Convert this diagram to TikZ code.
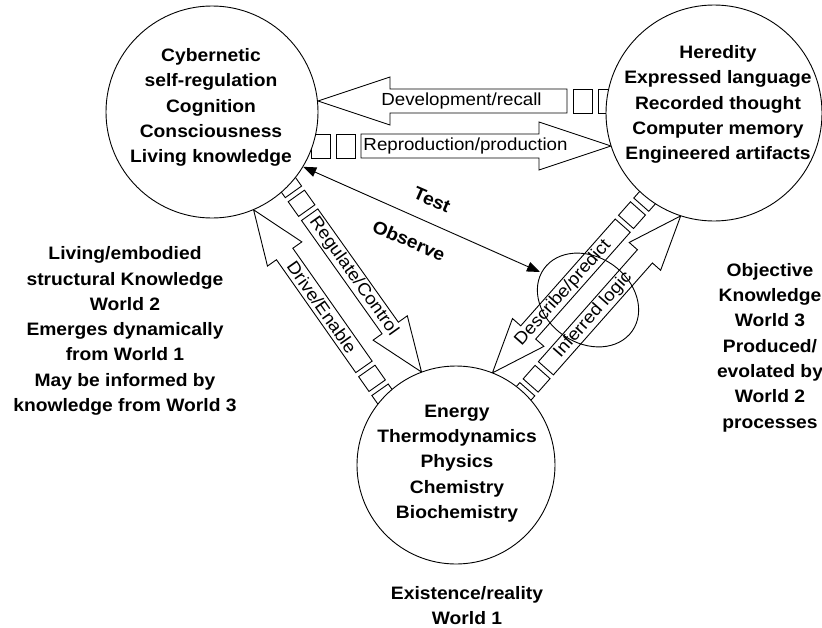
\documentclass[tikz,border=0pt]{standalone}
\usepackage{fontspec}
\setmainfont{Liberation Sans}[FakeStretch=1.07]
\usetikzlibrary{calc,arrows.meta,shapes.geometric}

\tikzset{
  world/.style={circle, draw, fill=white, line width=0.9pt, inner sep=0pt},
  bodytext/.style={font=\bfseries\fontsize{18}{25.3}\selectfont, align=center, inner sep=0pt},
  flowlabel/.style={font=\fontsize{17.5}{20}\selectfont, inner sep=0pt},
  outline/.style={draw, line width=0.9pt, line join=miter},
  tiptri/.tip={Triangle[length=13pt,width=10pt]},
}

% shaft half width, head half width, head length, box length, gap
\newcommand\arrowdims[5]{\def\baw{#1}\def\bahw{#2}\def\bahl{#3}\def\babl{#4}\def\bag{#5}}

% block arrow with two small boxes at its tail: tail, tip, label, label position
\newcommand\blockarrow[4]{%
  \path let \p1=($(#2)-(#1)$) in \pgfextra{%
    \pgfmathsetmacro\tmpL{veclen(\x1,\y1)}%
    \pgfmathsetmacro\tmpA{atan2(\y1,\x1)}%
    \xdef\baL{\tmpL}\xdef\baA{\tmpA}};
  \pgfmathsetmacro\baT{\baA>90 ? \baA-180 : (\baA<-90 ? \baA+180 : \baA)}
  \begin{scope}[shift={(#1)}, rotate=\baA]
    \draw[outline] (0,-\baw) rectangle (\babl,\baw);
    \draw[outline] ({\babl+\bag},-\baw) rectangle ({2*\babl+\bag},\baw);
    \draw[outline] ({2*\babl+2*\bag},-\baw) -- ({\baL-\bahl},-\baw)
      -- ({\baL-\bahl},-\bahw) -- (\baL,0) -- ({\baL-\bahl},\bahw)
      -- ({\baL-\bahl},\baw) -- ({2*\babl+2*\bag},\baw) -- cycle;
  \end{scope}
  \node[flowlabel, rotate=\baT] at ($(#1)!#4!(#2)$) {#3};
}

\begin{document}
\begin{tikzpicture}[x=1pt,y=1pt]
\useasboundingbox (0,0) rectangle (822,-627);

% arrow end points
\coordinate (dev-tail) at (617,-101);
\coordinate (dev-tip)  at (318,-101);
\coordinate (rep-tail) at (311,-146);
\coordinate (rep-tip)  at (611,-146);
\coordinate (reg-tail) at (283,-177.2);
\coordinate (reg-tip)  at (421.5,-372);
\coordinate (drv-tail) at (390.4,-404.5);
\coordinate (drv-tip)  at (253.6,-209.8);
\coordinate (dsc-tail) at (653.2,-191.2);
\coordinate (dsc-tip)  at (492.4,-372.9);
\coordinate (inf-tail) at (515.4,-402.7);
\coordinate (inf-tip)  at (680.7,-215.9);

% block arrows
\arrowdims{12}{24}{72}{19}{6}
\blockarrow{dev-tail}{dev-tip}{Development/recall}{0.52}
\blockarrow{rep-tail}{rep-tip}{Reproduction/production}{0.515}
\arrowdims{10}{21}{54}{18}{5}
\blockarrow{reg-tail}{reg-tip}{Regulate/Control}{0.51}
\blockarrow{drv-tail}{drv-tip}{Drive/Enable}{0.5}
\blockarrow{dsc-tail}{dsc-tip}{Describe/predict}{0.56}
\blockarrow{inf-tail}{inf-tip}{Inferred logic}{0.47}

% the three worlds
\node[world, minimum size=212pt] (w2) at (212,-112) {};
\node[world, minimum size=216pt] (w3) at (714,-113) {};
\node[world, minimum size=198pt] (w1) at (456,-465) {};

\node[bodytext] (w2txt) at (211,-107.5) {Cybernetic\\self-regulation\\Cognition\\Consciousness\\Living knowledge};
\node[bodytext] (w3txt) at (718,-104.5) {Heredity\\Expressed language\\Recorded thought\\Computer memory\\Engineered artifacts};
\node[bodytext] (w1txt) at (457,-463.5) {Energy\\Thermodynamics\\Physics\\Chemistry\\Biochemistry};

% side captions
\node[bodytext] (w2cap) at (125,-331) {Living/embodied\\structural Knowledge\\World 2\\Emerges dynamically\\from World 1\\May be informed by\\knowledge from World 3};
\node[bodytext] (w3cap) at (770,-347.5) {Objective\\Knowledge\\World 3\\Produced/\\evolated by\\World 2\\processes};
\node[bodytext] (w1cap) at (467,-605.5) {Existence/reality\\World 1};

% observation region
\node[outline, ellipse, minimum width=108pt, minimum height=86pt, inner sep=0pt, rotate=-35] (obs) at (588,-300) {};
\coordinate (obs-end) at (540,-272);

% test / observe connector
\draw[outline, tiptri-tiptri] (w2.-31.8) -- (obs-end);
\node[bodytext, rotate=-23.5] (testlbl) at (432,-200) {Test};
\node[bodytext, rotate=-23.5] (obslbl) at (409,-240.5) {Observe};
\end{tikzpicture}
\end{document}
